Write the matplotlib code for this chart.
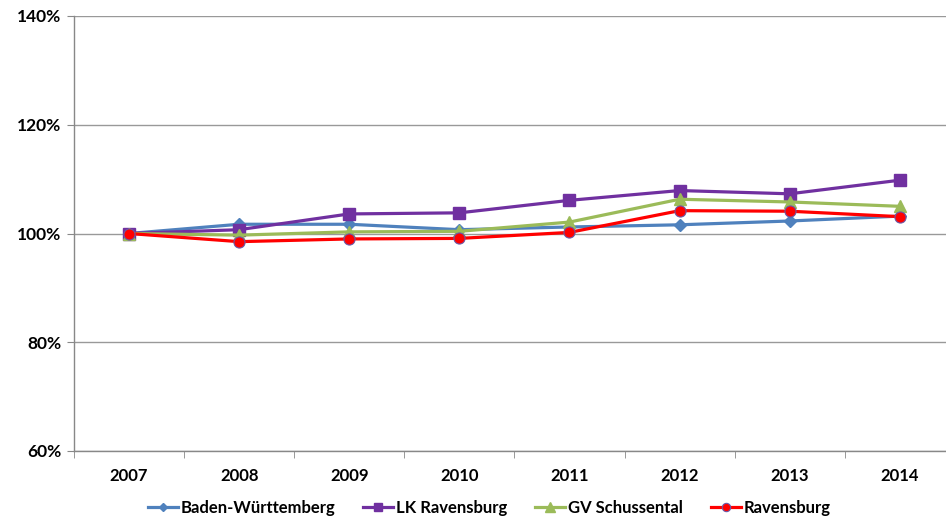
import matplotlib.pyplot as plt
from matplotlib.ticker import FuncFormatter, FixedLocator

plt.rcParams['font.family'] = ['Lato', 'DejaVu Sans']

# Index values (2007 = 100%)
years = ['2007', '2008', '2009', '2010', '2011', '2012', '2013', '2014']
baden_wuerttemberg = [100.0, 101.7, 101.7, 100.7, 101.2, 101.6, 102.3, 103.2]
lk_ravensburg = [100.0, 100.7, 103.6, 103.8, 106.1, 107.9, 107.3, 109.8]
gv_schussental = [100.0, 99.7, 100.3, 100.4, 102.1, 106.3, 105.8, 105.0]
ravensburg = [100.0, 98.5, 99.0, 99.1, 100.2, 104.2, 104.1, 103.1]

fig = plt.figure(figsize=(9.46, 5.19), dpi=100)
ax = fig.add_axes([74 / 946, 1 - 451 / 519, 872 / 946, 435 / 519])

x = list(range(len(years)))
ax.plot(x, baden_wuerttemberg, color='#4F81BD', lw=2.3, marker='D', ms=6,
        label='Baden-Württemberg', zorder=3)
ax.plot(x, lk_ravensburg, color='#7030A0', lw=2.3, marker='s', ms=8.5,
        label='LK Ravensburg', zorder=3)
ax.plot(x, gv_schussental, color='#9BBB59', lw=2.3, marker='^', ms=9,
        label='GV Schussental', zorder=3)
ax.plot(x, ravensburg, color='#FF0000', lw=2.3, marker='o', ms=8,
        mec='#6A5AA8', mew=0.8, label='Ravensburg', zorder=4)

ax.set_ylim(60, 140)
ax.set_yticks([60, 80, 100, 120, 140])
ax.yaxis.set_major_formatter(FuncFormatter(lambda v, p: f'{v:.0f}%'))
ax.set_xlim(-0.5, -0.5 + 872 / 110.1)
ax.set_xticks(x)
ax.set_xticklabels(years)
ax.xaxis.set_minor_locator(FixedLocator([i + 0.5 for i in range(-1, 8)]))
ax.tick_params(axis='x', which='major', length=0, pad=12)
ax.tick_params(axis='x', which='minor', length=5, color='#888888')
ax.tick_params(axis='y', length=5, color='#888888', pad=4)
for lbl in ax.get_xticklabels():
    lbl.set_fontsize(12)
    lbl.set_fontweight('bold')
for lbl in ax.get_yticklabels():
    lbl.set_fontsize(12.5)
    lbl.set_fontweight('bold')

ax.grid(axis='y', color='#999999', lw=1)
ax.set_axisbelow(True)
for side in ['top', 'right']:
    ax.spines[side].set_visible(False)
for side in ['left', 'bottom']:
    ax.spines[side].set_color('#888888')
    ax.spines[side].set_linewidth(1)

fig.legend(loc='center', bbox_to_anchor=(0.517, 1 - 508 / 519), ncol=4,
           frameon=False, handlelength=1.8, handletextpad=0.15, columnspacing=1.7,
           prop={'size': 12, 'weight': 'bold'}, markerscale=0.75)

fig.savefig('out.png', dpi=100)
